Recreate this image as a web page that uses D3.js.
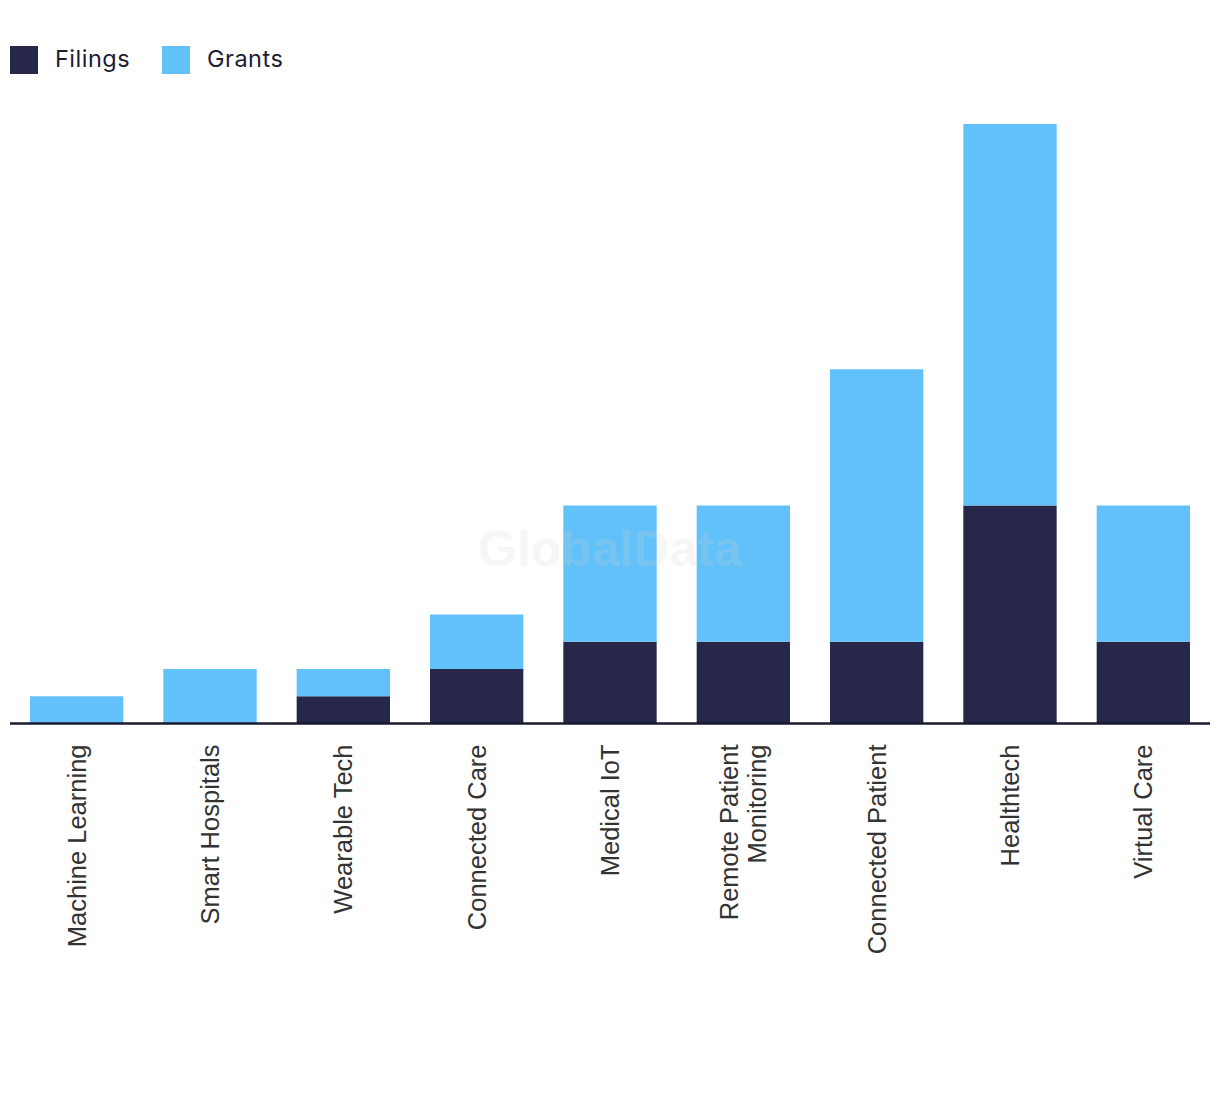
<!DOCTYPE html>
<html>
<head>
<meta charset="utf-8">
<script src="https://cdn.jsdelivr.net/npm/d3@7"></script>
<style>
  html, body { margin: 0; padding: 0; background: #fff; }
  svg { display: block; }
</style>
</head>
<body>
<svg id="chart" width="1220" height="1094"></svg>
<script>
const categories = ["Machine Learning", "Smart Hospitals", "Wearable Tech", "Connected Care", "Medical IoT", "Remote Patient Monitoring", "Connected Patient", "Healthtech", "Virtual Care"];
const categoryLines = [["Machine Learning"], ["Smart Hospitals"], ["Wearable Tech"], ["Connected Care"], ["Medical IoT"], ["Remote Patient", "Monitoring"], ["Connected Patient"], ["Healthtech"], ["Virtual Care"]];
const filings = [0, 0, 1, 2, 3, 3, 3, 8, 3];
const grants  = [1, 2, 1, 2, 5, 5, 10, 14, 5];
const seriesNames = ["Filings", "Grants"];
const seriesColors = ["#27274a", "#62c1f9"];

const svg = d3.select("#chart");
const plotLeft = 10, plotRight = 1210, plotBase = 723.5, plotTop = 124;

const data = categories.map((c, i) => ({ cat: c, Filings: filings[i], Grants: grants[i] }));
const stack = d3.stack().keys(seriesNames)(data);

const x = d3.scaleBand().domain(categories).range([plotLeft, plotRight]).paddingInner(0.3).paddingOuter(0.15);
const maxTotal = d3.max(data, d => d.Filings + d.Grants);
const y = d3.scaleLinear().domain([0, maxTotal]).range([plotBase, plotTop]);
const color = d3.scaleOrdinal().domain(seriesNames).range(seriesColors);

// bars
svg.append("g").selectAll("g").data(stack).join("g")
  .attr("fill", d => color(d.key))
  .selectAll("rect").data(d => d).join("rect")
  .attr("x", d => x(d.data.cat))
  .attr("width", x.bandwidth())
  .attr("y", d => y(d[1]))
  .attr("height", d => y(d[0]) - y(d[1]));

// watermark
svg.append("text")
  .attr("x", 610).attr("y", 566)
  .attr("text-anchor", "middle")
  .attr("font-family", "'Liberation Sans', Arial, sans-serif")
  .attr("font-weight", "bold")
  .attr("font-size", 50)
  .attr("fill", "#d0d0d0")
  .attr("fill-opacity", 0.2)
  .text("GlobalData");

// x axis
const xAxis = d3.axisBottom(x).tickSize(0).tickFormat("");
const gx = svg.append("g").attr("transform", `translate(0,${plotBase})`).call(xAxis);
gx.select(".domain").attr("stroke", "#1a1a2e").attr("stroke-width", 2.5).attr("d", `M${plotLeft},0H${plotRight}`);

// labels
const fs = 25.5, lh = 28;
gx.selectAll(".tick").each(function(d, i) {
  const lines = categoryLines[i];
  const t = d3.select(this).append("text")
    .attr("transform", "rotate(-90)")
    .attr("text-anchor", "end")
    .attr("font-family", "'Liberation Sans', Arial, sans-serif")
    .attr("font-size", fs)
    .attr("fill", "#333333");
  const n = lines.length;
  lines.forEach((ln, j) => {
    t.append("tspan")
      .attr("x", -21)
      .attr("y", 0.35 * fs + (j - (n - 1) / 2) * lh)
      .text(ln);
  });
});

// legend
const legend = svg.append("g");
const legX = [10, 162];
seriesNames.forEach((s, i) => {
  const g = legend.append("g").attr("transform", `translate(${legX[i]},46)`);
  g.append("rect").attr("width", 28).attr("height", 28).attr("fill", color(s));
  g.append("text").attr("x", 45).attr("y", 21)
    .attr("font-family", "Inter, 'Noto Sans', sans-serif")
    .attr("font-size", 23.5)
    .attr("letter-spacing", 0.5)
    .attr("fill", "#1c1c35")
    .text(s);
});
</script>
</body>
</html>
